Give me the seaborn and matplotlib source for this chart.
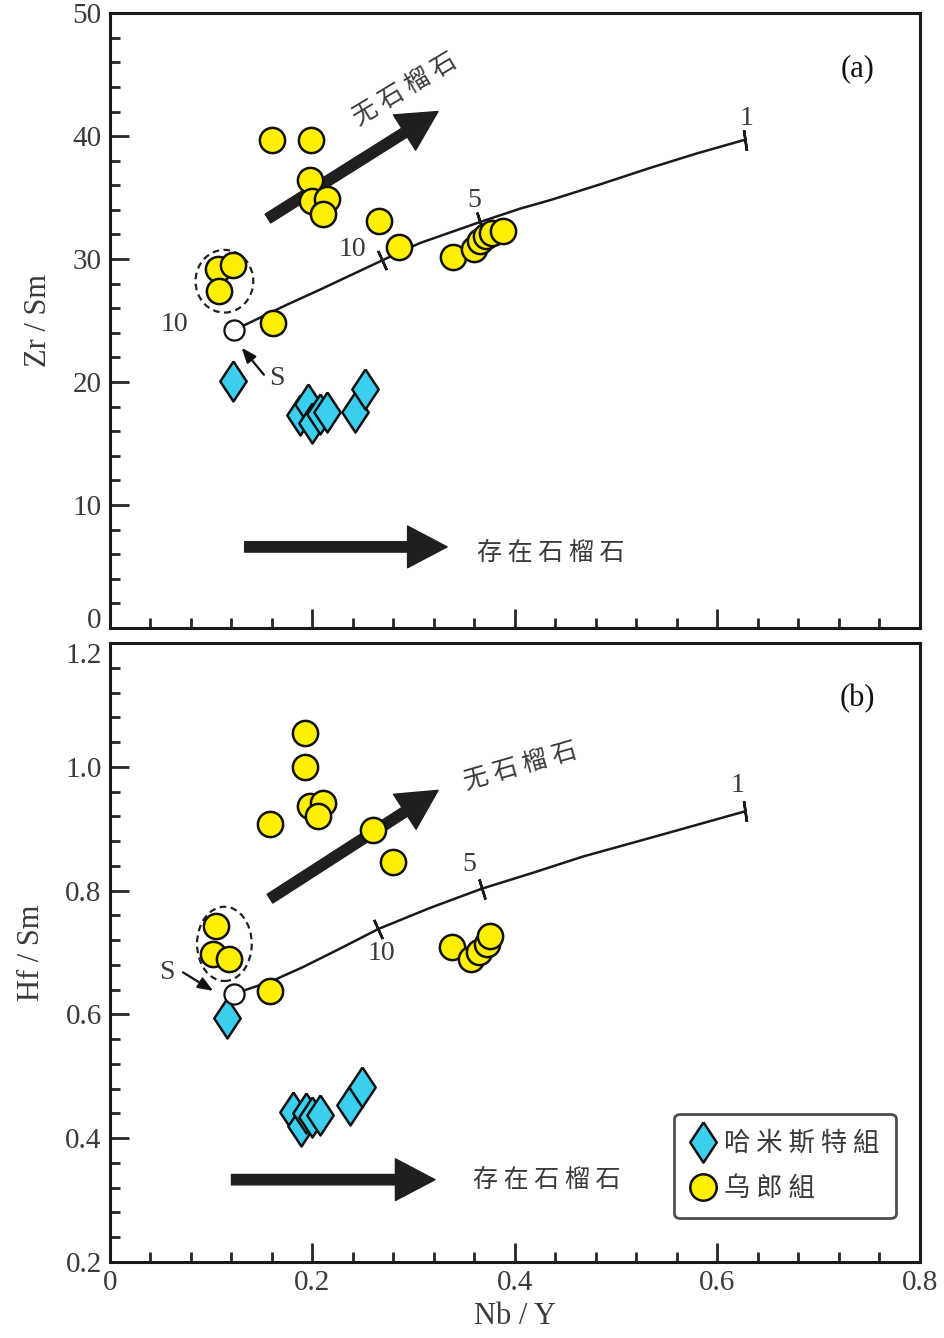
import numpy as np
import pandas as pd
import seaborn as sns
import matplotlib.pyplot as plt
from matplotlib.patches import Ellipse
from matplotlib.lines import Line2D
from matplotlib.ticker import MultipleLocator

sns.set_style('ticks')
plt.rcParams['font.family'] = ['Liberation Serif', 'DejaVu Serif']
cjk = ['Noto Sans CJK SC', 'DejaVu Sans']

# ---- panel (a): Zr/Sm vs Nb/Y ----
wl_nby_a = [0.160, 0.199, 0.198, 0.200, 0.214, 0.210, 0.266, 0.285, 0.339, 0.360,
            0.365, 0.371, 0.377, 0.388, 0.107, 0.121, 0.108, 0.161]
wl_zrsm = [39.7, 39.7, 36.4, 34.7, 34.9, 33.7, 33.1, 31.0, 30.2, 30.8,
           31.5, 31.9, 32.1, 32.3, 29.2, 29.5, 27.4, 24.8]
hm_nby_a = [0.121, 0.188, 0.196, 0.200, 0.207, 0.214, 0.242, 0.252]
hm_zrsm = [20.1, 17.3, 18.2, 16.7, 17.4, 17.6, 17.6, 19.4]
curve_x_a = [0.122, 0.175, 0.207, 0.269, 0.306, 0.365, 0.405, 0.435, 0.485, 0.533, 0.58, 0.627]
curve_y_a = [24.2, 26.3, 27.5, 29.9, 31.3, 33.0, 34.1, 34.8, 36.1, 37.4, 38.6, 39.7]
curve_ticks_a = [3, 5, 11]

# ---- panel (b): Hf/Sm vs Nb/Y ----
wl_nby_b = [0.193, 0.193, 0.198, 0.210, 0.205, 0.158, 0.260, 0.280, 0.338, 0.357,
            0.364, 0.372, 0.375, 0.105, 0.102, 0.118, 0.158]
wl_hfsm = [1.054, 0.999, 0.936, 0.941, 0.921, 0.907, 0.898, 0.847, 0.709, 0.690,
           0.701, 0.714, 0.727, 0.743, 0.698, 0.689, 0.638]
hm_nby_b = [0.116, 0.181, 0.189, 0.194, 0.200, 0.207, 0.237, 0.249]
hm_hfsm = [0.595, 0.443, 0.419, 0.441, 0.435, 0.438, 0.454, 0.482]
curve_x_b = [0.122, 0.16, 0.19, 0.228, 0.265, 0.316, 0.367, 0.42, 0.467, 0.52, 0.566, 0.627]
curve_y_b = [0.633, 0.654, 0.676, 0.707, 0.738, 0.772, 0.803, 0.830, 0.855, 0.879, 0.900, 0.928]
curve_ticks_b = [4, 6, 11]

yellow = '#FFEF00'
cyan = '#3ACFEF'
txt = '#3a3a3a'
diamond = [(0, 1), (0.66, 0), (0, -1), (-0.66, 0), (0, 1)]

fig = plt.figure(figsize=(9.45, 13.38), dpi=100)
ax1 = fig.add_axes([0.1164, 0.5306, 0.8571, 0.4596])
ax2 = fig.add_axes([0.1164, 0.0568, 0.8571, 0.4626])


def draw_panel(ax, wx, wy, hx, hy, cx, cy, ticks, tick_angles):
    sns.lineplot(x=cx, y=cy, ax=ax, color='#1a1a1a', lw=1.8, sort=False,
                 estimator=None, zorder=2)
    for i, ang in zip(ticks, tick_angles):
        ax.plot(cx[i], cy[i], marker=(2, 2, ang), ms=15, mew=1.8,
                color='#1a1a1a', zorder=2)
    sns.scatterplot(x=hx, y=hy, ax=ax, marker=diamond, s=830, color=cyan,
                    edgecolor='#111', linewidth=1.8, zorder=3)
    sns.scatterplot(x=wx, y=wy, ax=ax, marker='o', s=330, color=yellow,
                    edgecolor='#111', linewidth=1.8, zorder=4)
    sns.scatterplot(x=[cx[0]], y=[cy[0]], ax=ax, marker='o', s=210, color='white',
                    edgecolor='#111', linewidth=1.6, zorder=5)
    ax.set_xlim(0, 0.8)
    ax.xaxis.set_minor_locator(MultipleLocator(0.04))
    ax.tick_params(which='major', direction='in', length=14, width=2,
                   labelsize=21, labelcolor=txt, top=False, right=False, pad=6)
    ax.tick_params(which='minor', direction='in', length=7, width=2,
                   top=False, right=False)
    for sp in ax.spines.values():
        sp.set_linewidth(2.2)
        sp.set_color('#1a1a1a')


arrow_big = 'simple,head_length=0.95,head_width=1.0,tail_width=0.25'
arrow_small = '-|>,head_length=0.9,head_width=0.35'

# panel (a)
draw_panel(ax1, wl_nby_a, wl_zrsm, hm_nby_a, hm_zrsm, curve_x_a, curve_y_a,
           curve_ticks_a, [24, 18, 8])
ax1.set_ylim(0, 50)
ax1.set_xticks([0, 0.2, 0.4, 0.6, 0.8])
ax1.set_yticks([0, 10, 20, 30, 40, 50])
ax1.yaxis.set_minor_locator(MultipleLocator(2))
ax1.tick_params(axis='x', labelbottom=False)
ax1.yaxis.get_major_ticks()[0].label1.set_verticalalignment('baseline')
ax1.set_ylabel('Zr / Sm', fontsize=22, color=txt, labelpad=14)
ax1.add_patch(Ellipse((0.113, 28.2), 0.057, 5.1, fill=False, ls=(0, (3, 2)),
                      lw=1.6, color='#222', zorder=3))
ax1.text(0.064, 24.7, '10', fontsize=20, color=txt, ha='center', va='center')
ax1.text(0.239, 30.8, '10', fontsize=20, color=txt, ha='center', va='center')
ax1.text(0.360, 34.8, '5', fontsize=20, color=txt, ha='center', va='center')
ax1.text(0.629, 41.4, '1', fontsize=20, color=txt, ha='center', va='center')
ax1.text(0.165, 20.3, 'S', fontsize=20, color=txt, ha='center', va='center')
ax1.annotate('', xy=(0.130, 22.8), xytext=(0.152, 20.6),
             arrowprops=dict(arrowstyle=arrow_small, lw=1.6, color='#111',
                             shrinkA=0, shrinkB=0))
ax1.annotate('', xy=(0.324, 42.0), xytext=(0.156, 33.3),
             arrowprops=dict(arrowstyle=arrow_big, mutation_scale=30,
                             color='#1f1f1f', shrinkA=0, shrinkB=0))
ax1.annotate('', xy=(0.333, 6.6), xytext=(0.133, 6.6),
             arrowprops=dict(arrowstyle=arrow_big, mutation_scale=30,
                             color='#1f1f1f', shrinkA=0, shrinkB=0))
ax1.text(0.292, 43.8, '无 石 榴 石', family=cjk, fontsize=18, color=txt,
         rotation=31, ha='center', va='center', rotation_mode='anchor')
ax1.text(0.435, 6.1, '存 在 石 榴 石', family=cjk, fontsize=18, color=txt,
         ha='center', va='center')
ax1.text(0.923, 0.91, '(a)', transform=ax1.transAxes, fontsize=22,
         ha='center', va='center', color='#111')

# panel (b)
draw_panel(ax2, wl_nby_b, wl_hfsm, hm_nby_b, hm_hfsm, curve_x_b, curve_y_b,
           curve_ticks_b, [24, 17, 8])
ax2.set_ylim(0.2, 1.2)
ax2.set_yticks([0.2, 0.4, 0.6, 0.8, 1.0, 1.2])
ax2.yaxis.set_minor_locator(MultipleLocator(0.04))
ax2.set_xticks([0, 0.2, 0.4, 0.6, 0.8], ['0', '0.2', '0.4', '0.6', '0.8'])
ax2.yaxis.get_major_ticks()[-1].label1.set_verticalalignment('top')
ax2.set_ylabel('Hf / Sm', fontsize=22, color=txt, labelpad=14)
ax2.set_xlabel('Nb / Y', fontsize=22, color=txt, labelpad=4)
ax2.add_patch(Ellipse((0.113, 0.714), 0.054, 0.12, fill=False, ls=(0, (3, 2)),
                      lw=1.6, color='#222', zorder=3))
ax2.text(0.268, 0.698, '10', fontsize=20, color=txt, ha='center', va='center')
ax2.text(0.355, 0.843, '5', fontsize=20, color=txt, ha='center', va='center')
ax2.text(0.620, 0.970, '1', fontsize=20, color=txt, ha='center', va='center')
ax2.text(0.056, 0.668, 'S', fontsize=20, color=txt, ha='center', va='center')
ax2.annotate('', xy=(0.102, 0.638), xytext=(0.072, 0.668),
             arrowprops=dict(arrowstyle=arrow_small, lw=1.6, color='#111',
                             shrinkA=0, shrinkB=0))
ax2.annotate('', xy=(0.324, 0.962), xytext=(0.158, 0.787),
             arrowprops=dict(arrowstyle=arrow_big, mutation_scale=30,
                             color='#1f1f1f', shrinkA=0, shrinkB=0))
ax2.annotate('', xy=(0.321, 0.333), xytext=(0.120, 0.333),
             arrowprops=dict(arrowstyle=arrow_big, mutation_scale=30,
                             color='#1f1f1f', shrinkA=0, shrinkB=0))
ax2.text(0.405, 1.0, '无 石 榴 石', family=cjk, fontsize=18, color=txt,
         rotation=16, ha='center', va='center', rotation_mode='anchor')
ax2.text(0.431, 0.333, '存 在 石 榴 石', family=cjk, fontsize=18, color=txt,
         ha='center', va='center')
ax2.text(0.923, 0.911, '(b)', transform=ax2.transAxes, fontsize=22,
         ha='center', va='center', color='#111')

handles = [
    Line2D([], [], ls='', marker=diamond, ms=29, mfc=cyan, mec='#111', mew=1.8),
    Line2D([], [], ls='', marker='o', ms=19, mfc=yellow, mec='#111', mew=1.8),
]
leg = ax2.legend(handles, ['哈 米 斯 特 組', '乌 郎 組'], loc='lower right',
                 bbox_to_anchor=(0.97, 0.071), borderaxespad=0, frameon=True,
                 prop={'family': cjk, 'size': 19}, handlelength=1.0,
                 handletextpad=0.3, labelspacing=0.7, borderpad=0.6,
                 fancybox=True)
leg.get_frame().set_edgecolor('#222')
leg.get_frame().set_linewidth(2)
for t in leg.get_texts():
    t.set_color(txt)

fig.savefig('out.png', dpi=100)
